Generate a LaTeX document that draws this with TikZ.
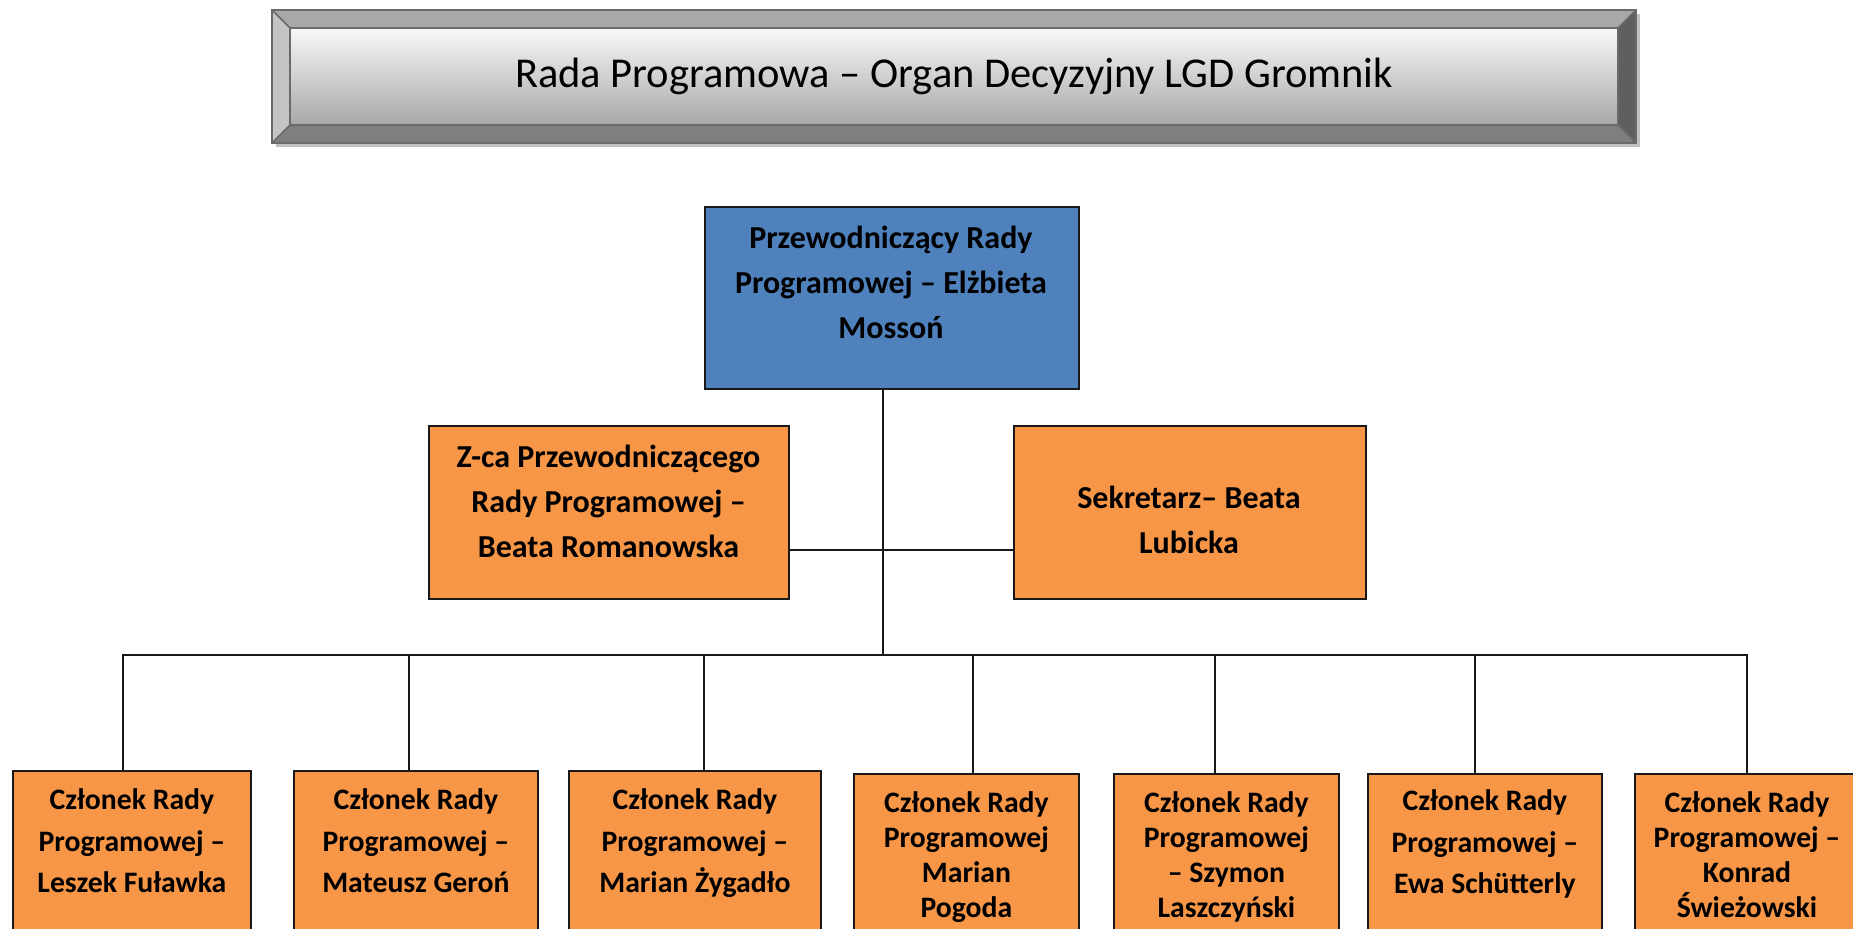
\documentclass[tikz,border=0pt]{standalone}
\usepackage{fontspec}
\setmainfont{Carlito}
\definecolor{orng}{HTML}{F79646}
\definecolor{blu}{HTML}{4F81BD}
\definecolor{bevT}{HTML}{A8A8A8}
\definecolor{bevL}{HTML}{C4C4C4}
\definecolor{bevR}{HTML}{5F5F5F}
\definecolor{bevB}{HTML}{7F7F7F}
\definecolor{bevO}{HTML}{6A6A6A}
\definecolor{shad}{HTML}{C0C0C0}
\definecolor{faceT}{HTML}{F8F8F8}
\definecolor{faceB}{HTML}{A8A8A8}
\tikzset{
  orgbox/.style={draw=black!90, line width=1.8pt, anchor=north west, inner sep=0pt},
  obox/.style={orgbox, fill=orng},
  bbox/.style={orgbox, fill=blu},
  boxtxt/.style={font=\bfseries\fontsize{32}{45}\selectfont, align=center, inner sep=0pt},
  memtxt/.style={font=\bfseries\fontsize{29.7}{41.5}\selectfont, align=center, inner sep=0pt},
  memtxtb/.style={font=\bfseries\fontsize{29.7}{35}\selectfont, align=center, inner sep=0pt},
  conn/.style={draw=black!90, line width=1.8pt},
  bev/.style={draw=bevO, line width=1.6pt, line join=miter}
}
\begin{document}
\begin{tikzpicture}[x=1pt,y=-1pt]
\useasboundingbox (0,0) rectangle (1853,929);
\clip (0,0) rectangle (1853,929);
\fill[white] (0,0) rectangle (1853,929);
% title bevel box
\fill[shad] (276,14) rectangle (1640,147);
\coordinate (oTL) at (272,10); \coordinate (oTR) at (1636,10);
\coordinate (oBR) at (1636,143); \coordinate (oBL) at (272,143);
\coordinate (iTL) at (290,28); \coordinate (iTR) at (1618,28);
\coordinate (iBR) at (1618,125); \coordinate (iBL) at (290,125);
\fill[bevT] (oTL) -- (oTR) -- (iTR) -- (iTL) -- cycle;
\fill[bevR] (oTR) -- (oBR) -- (iBR) -- (iTR) -- cycle;
\fill[bevB] (oBR) -- (oBL) -- (iBL) -- (iBR) -- cycle;
\fill[bevL] (oBL) -- (oTL) -- (iTL) -- (iBL) -- cycle;
\shade[top color=faceT, bottom color=faceB] (iTL) rectangle (iBR);
\draw[bev] (oTL) rectangle (oBR);
\draw[bev] (iTL) rectangle (iBR);
\draw[bev] (oTL) -- (iTL) (oTR) -- (iTR) (oBR) -- (iBR) (oBL) -- (iBL);
\node[font=\fontsize{42.5}{48}\selectfont, inner sep=0pt] (title) at (954,76) {Rada Programowa – Organ Decyzyjny LGD Gromnik};
% top box
\node[bbox, minimum width=374pt, minimum height=182pt] (top) at (704,206) {};
\node[boxtxt] (toptxt) at (891,282) {Przewodniczący Rady\\Programowej – Elżbieta\\Mossoń};
% middle boxes
\node[obox, minimum width=360pt, minimum height=173pt] (zca) at (428,425) {};
\node[boxtxt] (zcatxt) at (608.5,501) {Z-ca Przewodniczącego\\Rady Programowej –\\Beata Romanowska};
\node[obox, minimum width=352pt, minimum height=173pt] (sek) at (1013,425) {};
\node[boxtxt] (sektxt) at (1189,519.5) {Sekretarz– Beata\\Lubicka};
% member boxes
\node[obox, minimum width=238pt, minimum height=200pt] (m1) at (12,770) {};
\node[obox, minimum width=244pt, minimum height=200pt] (m2) at (293,770) {};
\node[obox, minimum width=252pt, minimum height=200pt] (m3) at (568,770) {};
\node[obox, minimum width=225pt, minimum height=200pt] (m4) at (853,773) {};
\node[obox, minimum width=225pt, minimum height=200pt] (m5) at (1113,773) {};
\node[obox, minimum width=234pt, minimum height=200pt] (m6) at (1367,773) {};
\node[obox, minimum width=240pt, minimum height=200pt] (m7) at (1634,773) {};
\node[memtxt] (t1) at (m1.north |- 0,841) {Członek Rady\\Programowej –\\Leszek Fuławka};
\node[memtxt] (t2) at (m2.north |- 0,841) {Członek Rady\\Programowej –\\Mateusz Geroń};
\node[memtxt] (t3) at (m3.north |- 0,843.5) {Członek Rady\\Programowej –\\Marian Żygadło};
\node[memtxtb] (t4) at (m4.north |- 0,857) {Członek Rady\\Programowej\\Marian\\Pogoda};
\node[memtxtb] (t5) at (m5.north |- 0,857) {Członek Rady\\Programowej\\– Szymon\\Laszczyński};
\node[memtxt] (t6) at (m6.north |- 0,844) {Członek Rady\\Programowej –\\Ewa Schütterly};
\node[memtxtb] (t7) at (1747,855) {Członek Rady\\Programowej –\\Konrad\\Świeżowski};
% connectors
\coordinate (hub) at (883,655);
\coordinate (midc) at (883,550);
\coordinate (busL) at (123,655);
\coordinate (busR) at (1747,655);
\coordinate (s1) at (123,655);
\coordinate (s2) at (409,655);
\coordinate (s3) at (704,655);
\coordinate (s4) at (973,655);
\coordinate (s5) at (1215,655);
\coordinate (s6) at (1475,655);
\coordinate (s7) at (1747,655);
\draw[conn] (hub |- top.south) -- (hub);
\draw[conn] (zca.east |- midc) -- (sek.west |- midc);
\draw[conn, line cap=rect] (busL) -- (busR);
\draw[conn] (s1) -- (s1 |- m1.north);
\draw[conn] (s2) -- (s2 |- m2.north);
\draw[conn] (s3) -- (s3 |- m3.north);
\draw[conn] (s4) -- (s4 |- m4.north);
\draw[conn] (s5) -- (s5 |- m5.north);
\draw[conn] (s6) -- (s6 |- m6.north);
\draw[conn] (s7) -- (s7 |- m7.north);
\end{tikzpicture}
\end{document}
